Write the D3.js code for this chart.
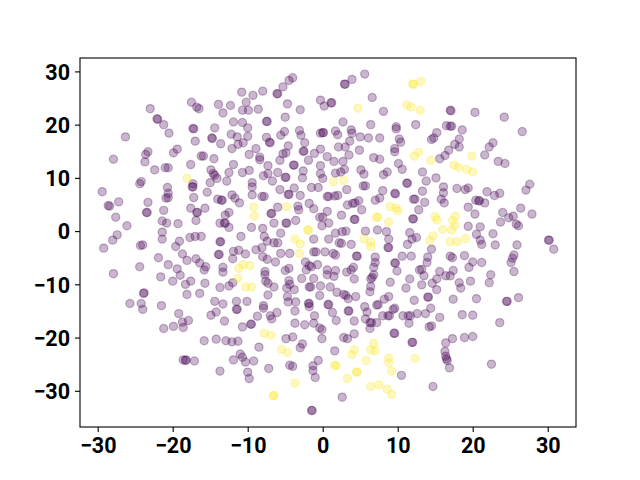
<!DOCTYPE html>
<html>
<head>
<meta charset="utf-8">
<script src="https://cdn.jsdelivr.net/npm/d3@7"></script>
<style>
html,body{margin:0;padding:0;background:#fff}
svg{display:block}
.tick text{font-family:Roboto,sans-serif;font-weight:700;font-size:21.5px;fill:#000}
</style>
</head>
<body>
<svg id="chart" width="640" height="480"></svg>
<script>
const xTicks = [-30,-20,-10,0,10,20,30];
const yTicks = [-30,-20,-10,0,10,20,30];
const xLimits = [-32.36,33.77];
const yLimits = [-36.8,32.52];

const classZero = [
[-10.8,26.1],[-17.5,24.2],[-16.8,23.3],[-16.5,23.0],[-13.9,23.8],[-12.3,23.6],[-10.2,24.2],[-13.3,22.2],[-10.7,22.7],[-9.9,22.7],
[-23.0,23.0],[-22.1,21.1],[-22.0,21.0],[-21.2,20.0],[-20.5,18.4],[-17.3,19.3],[-17.2,19.2],[-14.4,19.4],[-11.9,20.5],[-10.7,20.4],
[-10.0,19.4],[-26.3,17.7],[-17.0,16.9],[-14.8,17.5],[-14.7,17.4],[-12.2,18.2],[-11.4,17.7],[-10.0,17.8],[-13.6,16.4],[-11.3,16.3],
[-10.6,16.6],[-12.1,15.5],[-23.3,14.9],[-23.6,14.4],[-23.7,13.0],[-19.4,15.4],[-19.9,14.7],[-16.2,14.1],[-15.9,14.1],[-14.5,13.6],
[-27.9,13.5],[-22.4,11.5],[-21.0,11.9],[-20.6,11.9],[-17.6,12.5],[-14.9,11.5],[-11.9,12.5],[-14.6,10.8],[-14.4,10.5],[-14.1,9.9],
[-12.5,11.0],[-10.7,11.0],[-9.8,11.4],[-9.8,14.4],[-24.2,9.3],[-24.4,8.9],[-17.3,8.9],[-15.0,9.1],[-12.8,9.4],
[-4.0,28.8],[-4.5,28.3],[-5.3,27.1],[-6.1,25.8],[-6.0,25.8],[-8.0,26.3],[-9.3,25.5],[-8.6,22.9],[-4.7,23.9],[-3.0,22.8],
[-7.5,20.6],[-7.4,20.6],[-5.0,21.4],[-5.1,18.7],[-5.6,18.0],[-7.5,17.6],[-7.1,16.7],[-7.0,16.6],[-8.9,15.5],[-8.4,13.9],
[-8.4,13.4],[-4.6,16.0],[-4.9,14.7],[-5.3,14.5],[-5.7,13.3],[-7.3,12.3],[-7.3,10.8],[-7.9,10.4],[-6.0,11.0],[-5.0,10.1],
[-4.9,10.1],[-3.9,12.4],[-3.8,12.4],[-3.1,18.9],[-2.9,18.0],[-2.4,16.6],[-2.6,15.0],[-2.5,15.0],[-1.9,13.3],[-1.1,14.6],
[-0.3,15.4],[0.6,14.0],[1.5,13.1],[2.7,13.1],[3.5,14.3],[3.0,15.8],[2.1,15.8],[3.6,16.9],[4.9,15.2],[6.8,13.8],
[7.6,13.5],[5.0,17.7],[6.1,17.5],[7.6,17.5],[3.8,19.0],[3.9,18.4],[1.7,18.8],[2.0,18.1],[-0.3,18.4],[0.0,18.5],
[0.1,18.5],[2.7,20.5],[6.4,20.0],[-0.3,24.6],[0.2,23.5],[1.1,24.1],[1.2,24.1],[2.9,27.6],[3.0,27.6],[3.9,28.5],
[5.6,29.5],[6.6,25.1],[8.1,22.5],[9.8,19.6],[9.8,19.2],[10.2,17.3],[10.4,16.7],[9.6,15.5],[9.6,14.9],[10.1,12.7],
[10.6,11.6],[8.6,11.1],[8.1,10.6],[5.1,11.5],[5.5,10.7],[2.9,11.6],[2.4,11.1],[1.7,10.9],[-0.3,12.3],[-0.3,10.8],
[0.0,9.9],[-2.6,11.3],[-2.7,10.0],[-6.7,9.4],[-9.4,9.1],
[17.0,22.7],[17.1,22.6],[20.3,22.3],[24.2,21.4],[26.6,18.7],[12.4,20.0],[16.5,19.8],[17.0,19.7],[17.2,19.7],[18.6,19.0],
[15.2,18.5],[14.8,17.5],[14.5,17.2],[18.2,17.3],[17.6,16.3],[18.2,15.8],[16.8,15.2],[16.3,14.2],[15.6,13.6],[22.7,16.6],
[22.2,15.8],[21.6,14.3],[23.4,13.1],[24.3,12.7],[13.3,11.1],[13.8,9.4],[15.1,10.0],
[-29.4,7.4],[-28.6,4.8],[-28.4,4.7],[-27.2,5.5],[-23.3,5.4],[-23.5,3.5],[-23.4,3.5],[-21.2,3.9],[-27.6,2.6],[-26.1,1.0],
[-27.4,-0.7],[-28.0,-1.7],[-29.2,-3.2],[-24.3,-2.7],[-24.0,-2.6],[-21.4,1.9],[-20.8,1.5],[-19.3,1.4],[-21.4,-0.2],[-21.4,-1.5],
[-19.1,-1.9],[-19.6,-2.9],[-17.7,-1.2],[-17.0,-1.0],[-16.2,-1.0],[-17.6,4.3],[-16.8,3.5],[-16.7,3.5],[-15.7,4.3],[-16.9,2.0],
[-13.7,1.5],[-13.1,1.5],[-13.0,1.5],[-12.5,0.7],[-13.0,3.0],[-12.5,3.5],[-10.9,-1.0],[-13.7,-2.0],[-13.6,-2.0],[-13.9,-4.4],
[-13.8,-4.4],[-11.9,-3.8],[-11.2,-3.6],[-10.3,-4.3],[-12.0,-5.2],[-21.9,-5.0],[-24.4,-6.7],[-27.9,-8.0],[-20.6,-6.3],[-18.7,-4.3],
[-18.1,-5.5],[-16.9,-5.2],[-16.4,-6.0],[-15.6,-6.7],[-15.8,-7.3],[-19.4,-7.1],[-19.0,-8.3],[-21.6,-8.6],[-20.0,-9.4],[-18.3,-10.0],
[-17.6,-9.4],[-15.7,-9.8],[-18.1,-11.9],[-16.4,-11.7],[-13.3,-6.8],[-13.3,-7.7],[-13.7,-10.6],[-12.5,-10.3],[-12.0,-9.7],[-23.9,-11.7],
[-23.8,-11.6],[-20.7,8.2],[-20.6,7.1],[-20.6,6.3],[-20.9,6.2],[-17.4,8.3],[-17.3,8.3],[-17.2,6.3],[-15.4,7.3],[-14.0,6.0],
[-13.5,5.8],[-13.4,5.8],[-12.1,6.8],[-11.7,6.2],[-11.1,5.3],
[-9.4,8.3],[-9.4,6.8],[-8.1,6.5],[-7.8,6.5],[-5.7,7.8],[-4.6,6.9],[-4.5,6.9],[-3.0,6.7],[-3.8,8.1],[-1.5,8.2],
[-0.6,8.2],[0.6,6.5],[0.8,6.5],[1.6,6.6],[2.0,6.7],[3.2,7.8],[5.4,8.5],[5.7,8.5],[8.0,7.6],[7.0,5.8],
[7.6,6.2],[9.6,7.1],[9.7,7.0],[11.2,9.0],[11.3,9.0],[-1.8,5.2],[-1.2,4.2],[-3.3,4.7],[-3.2,4.0],[-6.0,4.5],
[-6.9,3.3],[-6.8,3.3],[-6.5,1.5],[-4.9,1.5],[-4.8,1.5],[-3.6,2.0],[-0.4,2.6],[0.0,2.6],[0.6,3.7],[-0.1,1.0],
[0.8,1.5],[-9.5,0.7],[-8.0,0.5],[-5.6,-0.4],[-7.8,-1.0],[-7.4,-1.9],[-6.5,-2.2],[-6.0,-2.2],[-8.9,-3.5],[-8.1,-3.1],
[-8.0,-4.8],[-7.4,-5.3],[-6.3,-5.8],[-5.6,-4.2],[-4.4,-4.2],[-1.2,-1.5],[-1.2,-3.9],[-0.9,-3.9],[0.3,-3.9],[1.4,-4.2],
[1.7,-4.5],[0.8,-1.5],[1.7,-0.4],[2.6,-0.1],[3.1,0.0],[2.2,-2.2],[2.5,-2.3],[3.8,-2.5],[2.5,3.0],[4.2,2.2],
[4.3,2.2],[3.3,4.9],[4.0,5.2],[4.3,5.3],[4.8,5.7],[5.2,4.0],[7.3,0.2],[5.7,0.0],[8.5,-0.1],[8.8,-1.5],
[8.7,-3.1],[8.8,-3.1],[12.0,2.3],[12.1,2.3],[11.6,-0.3],[11.9,-1.5],[11.3,-2.5],[12.5,-1.2],[4.5,-4.7],[4.6,-4.7],
[7.0,-4.9],[7.0,-5.9],[6.8,-6.8],[9.6,-6.0],[9.7,-6.0],[9.9,-7.5],[10.6,-4.7],[11.8,-4.7],[-2.3,-5.8],[-1.8,-6.5],
[-1.5,-6.7],[-0.7,-6.3],[-2.2,-7.3],[-4.5,-7.0],[-5.0,-7.4],[-7.7,-7.6],[-7.7,-8.2],[-7.6,-9.4],[-7.3,-9.8],[-6.5,-10.5],
[-4.5,-9.3],[-4.4,-10.0],[-3.8,-11.0],[-4.8,-10.7],[-2.8,-8.9],[-1.2,-8.9],[-1.8,-10.5],[-1.6,-10.5],[-0.3,-10.3],[1.0,-10.5],
[1.9,-11.5],[0.6,-8.2],[0.6,-7.3],[1.5,-8.5],[1.7,-7.4],[2.8,-11.9],[3.1,-12.1],[3.4,-12.7],[3.8,-7.3],[3.2,-7.7],
[4.1,-6.8],[4.2,-9.0],[6.8,-8.2],[6.6,-8.7],[6.4,-9.0],[6.4,-10.4],[6.3,-11.4],[9.0,-9.6],[11.6,-9.0],[11.1,-10.7],
[4.4,-12.3],[-7.3,-12.0],[-4.7,-12.3],[-0.4,-12.1],[8.8,-12.3],[8.2,-12.8],
[16.1,8.3],[16.1,7.2],[17.9,8.0],[19.0,7.8],[19.4,8.1],[21.9,7.4],[22.9,6.7],[23.6,7.1],[27.6,8.8],[27.1,7.7],
[13.3,7.5],[12.1,6.0],[12.3,6.0],[13.6,5.4],[15.8,6.0],[16.2,5.3],[19.4,4.5],[20.4,5.8],[20.8,5.7],[20.9,5.7],
[21.6,5.3],[20.3,3.2],[12.8,4.0],[24.0,3.5],[26.4,4.3],[27.9,3.2],[25.4,2.8],[24.8,2.5],[23.7,1.7],[25.8,1.3],
[26.1,1.0],[19.4,0.9],[21.0,0.8],[22.7,-0.5],[20.5,-0.6],[21.0,-1.7],[21.2,-2.5],[23.0,-2.6],[25.9,-2.6],[14.5,-3.4],
[30.1,-1.7],[30.2,-1.7],[30.8,-3.4],[14.0,-4.9],[13.9,-5.9],[17.0,-4.7],[17.3,-5.0],[18.9,-4.6],[20.0,-5.8],[19.5,-6.8],
[21.2,-5.9],[25.5,-4.5],[25.3,-5.1],[25.1,-5.9],[25.5,-7.6],[22.4,-8.2],[22.2,-9.7],[19.7,-9.4],[18.2,-9.7],[18.4,-10.7],
[17.4,-7.4],[17.0,-8.4],[16.4,-8.4],[15.6,-7.6],[15.2,-9.0],[14.6,-9.8],[13.5,-8.4],[13.2,-7.2],[12.9,-7.3],[13.2,-10.1],
[15.2,-11.0],[14.0,-12.4],[14.1,-12.4],[17.4,-12.8],[20.5,-12.7],[24.5,-13.2],[24.6,-13.2],[26.1,-12.5],[12.2,-13.0],
[-25.7,-13.6],[-24.2,-13.6],[-24.0,-14.7],[-21.5,-14.0],[-19.2,-15.5],[-17.9,-16.8],[-18.7,-17.1],[-18.6,-18.1],[-19.9,-17.9],[-21.2,-18.3],
[-14.4,-13.2],[-13.3,-13.7],[-14.2,-15.2],[-14.9,-15.8],[-13.1,-16.9],[-11.5,-14.7],[-11.4,-14.7],[-11.5,-13.2],[-10.7,-18.0],[-15.8,-20.6],
[-14.2,-20.3],[-12.9,-20.6],[-12.1,-20.8],[-11.3,-20.7],[-11.0,-23.1],[-10.7,-23.7],[-11.9,-24.2],[-10.3,-24.6],[-13.7,-26.3],[-10.0,-26.5],
[-9.8,-27.7],[-18.6,-24.2],[-18.2,-24.2],[-18.3,-24.3],[-17.1,-24.4],
[-10.1,-13.2],[-7.9,-14.0],[-7.9,-14.5],[-8.7,-16.0],[-7.0,-15.9],[-6.8,-16.5],[-6.1,-15.3],[-9.6,-17.5],[-9.5,-17.5],[-4.6,-13.3],
[-3.6,-13.3],[-3.7,-15.0],[-1.9,-13.6],[-1.8,-13.6],[-1.8,-14.2],[0.7,-13.8],[0.8,-13.8],[1.3,-15.3],[1.8,-16.8],[-1.1,-15.9],
[-3.7,-17.3],[-2.4,-17.6],[-1.2,-17.3],[-0.4,-18.2],[-0.1,-18.5],[3.4,-15.0],[3.5,-15.0],[4.2,-16.9],[5.6,-14.2],[5.9,-15.2],
[7.2,-13.9],[7.4,-13.8],[5.7,-16.5],[6.3,-17.2],[6.5,-17.2],[7.2,-17.2],[6.3,-18.3],[8.0,-15.9],[8.7,-15.9],[8.9,-15.9],
[9.4,-14.7],[9.6,-14.5],[10.7,-15.9],[11.4,-15.9],[11.7,-15.9],[11.5,-17.3],[9.5,-19.2],[9.6,-19.2],[11.9,-20.9],[12.0,-20.9],
[4.2,-19.3],[2.8,-20.0],[3.3,-20.2],[-0.1,-20.2],[-4.0,-19.9],[-4.9,-20.2],[-2.7,-21.2],[-3.0,-21.9],[-8.5,-21.8],[-9.2,-24.4],
[-7.2,-25.8],[-4.4,-25.2],[-4.0,-25.4],[-0.6,-24.3],[-1.3,-25.3],[-1.3,-26.2],[-1.0,-27.5],[1.6,-22.5],[10.5,-27.1],[2.6,-31.2],
[-1.5,-33.7],[-1.4,-33.7],
[12.6,-15.5],[13.7,-15.5],[14.4,-14.5],[15.6,-16.2],[18.6,-15.7],[20.0,-15.8],[23.6,-17.2],[14.2,-18.0],[14.5,-17.8],[17.3,-20.2],
[16.4,-21.0],[18.9,-20.0],[20.0,-19.8],[16.3,-22.6],[16.4,-23.5],[16.5,-24.0],[16.6,-24.3],[16.9,-25.7],[22.5,-25.0],[14.7,-29.2]
];

const classOne = [
[-18.1,9.9],[4.7,23.1],[11.2,23.7],[12.0,27.6],[12.1,27.6],[13.1,28.1],[11.8,23.3],[13.0,22.7],[12.8,14.8],[12.2,14.1],
[14.4,13.3],[19.9,14.1],[17.5,12.4],[18.1,12.0],[19.2,11.6],[20.0,11.1],[1.4,9.3],[2.8,9.5],
[-11.2,-7.0],[-10.6,-6.3],[-11.3,-8.9],[-10.3,-10.5],[-9.7,-6.5],[-9.5,-10.5],
[-4.8,4.6],[-9.2,4.5],[-9.1,2.8],[-2.0,0.2],[-1.9,0.2],[7.2,2.6],[7.3,2.6],[8.8,1.7],[9.0,4.6],[9.8,4.3],
[10.0,3.8],[-3.7,-1.5],[-3.0,-2.4],[-3.1,-4.2],[5.5,-1.5],[6.4,-2.1],[6.4,-2.9],
[15.0,2.7],[15.2,2.1],[17.7,2.8],[17.3,2.0],[17.6,1.0],[17.2,0.2],[16.0,0.3],[14.7,-0.9],[14.3,-1.8],[17.0,-2.0],
[17.9,-2.0],[19.0,-1.4],
[-7.8,-19.2],[-6.9,-19.6],[-5.5,-22.2],[-4.7,-22.8],[6.8,-21.1],[4.2,-22.3],[6.4,-22.3],[7.0,-22.5],[3.9,-23.2],[5.8,-24.3],
[8.8,-23.8],[8.8,-24.7],[9.2,-26.3],[1.6,-25.2],[1.8,-25.3],[4.5,-26.5],[4.6,-26.5],[3.3,-27.7],[6.4,-29.2],[7.5,-28.9],
[8.6,-29.7],[9.2,-30.7],[-3.7,-28.6],[-6.6,-30.9],[-6.5,-30.9],[12.3,-23.9]
];

const purple = "#440154";
const yellow = "#fde725";

const svg = d3.select("#chart");
const x = d3.scaleLinear().domain(xLimits).range([80,576]);
const y = d3.scaleLinear().domain(yLimits).range([427,58]);

const marks = svg.append("g");
function draw(points, color){
  marks.selectAll(null).data(points).enter().append("circle")
    .attr("cx", d => x(d[0]))
    .attr("cy", d => y(d[1]))
    .attr("r", 4.1)
    .attr("fill", color).attr("fill-opacity", 0.29)
    .attr("stroke", color).attr("stroke-opacity", 0.29).attr("stroke-width", 1.2);
}
draw(classZero, purple);
draw(classOne, yellow);

svg.append("rect").attr("x",80).attr("y",58).attr("width",496).attr("height",369)
  .attr("fill","none").attr("stroke","#000").attr("stroke-width",1.1);

const xAxis = d3.axisBottom(x).tickValues(xTicks).tickSize(5).tickPadding(6);
const yAxis = d3.axisLeft(y).tickValues(yTicks).tickSize(5).tickPadding(5);
const gx = svg.append("g").attr("transform","translate(0,427)").call(xAxis);
const gy = svg.append("g").attr("transform","translate(80,0)").call(yAxis);
gx.select(".domain").remove();
gy.select(".domain").remove();
gy.selectAll(".tick text").attr("dy","0.36em");
svg.selectAll(".tick line").attr("stroke","#000").attr("stroke-width",1.1);
</script>
</body>
</html>
